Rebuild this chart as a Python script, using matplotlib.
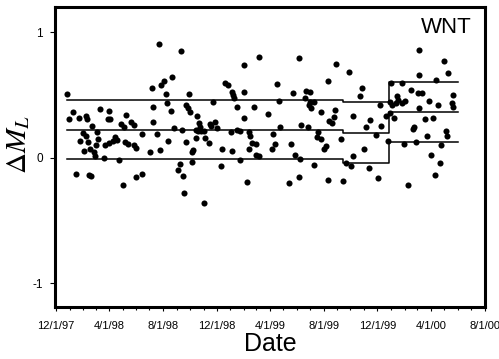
import matplotlib
matplotlib.use("Agg")
import matplotlib.pyplot as plt
import matplotlib.dates as mdates
import pandas as pd

plt.rcParams['font.family'] = ['Liberation Sans', 'DejaVu Sans']
plt.rcParams['mathtext.fontset'] = 'stix'

# ---- data: days since 1997-12-01 and Delta M_L values ----
start_date = "1997-12-01"
days = [
    233, 25, 218, 221, 39, 28, 51, 67, 70, 100, 121, 117, 123, 82, 158, 148, 153, 171, 176, 221,
    60, 67, 93, 196, 229, 53, 73, 96, 133, 139, 129, 121, 111, 91, 157, 164, 176, 182, 63, 77,
    86, 89, 108, 142, 213, 235, 44, 74, 80, 151, 182, 195,
    283, 462, 428, 263, 245, 239, 249, 301, 383, 390, 400, 403, 405, 428, 252, 296, 299, 305,
    260, 356, 412, 450, 481, 320, 427, 324, 327, 349, 352, 360, 267, 287, 317, 322, 330, 337,
    365, 412, 417, 398, 438, 441, 255, 294, 317, 339, 347, 446, 455, 311, 308, 377, 400, 438,
    455, 461, 419, 282, 308, 276, 288, 375, 434, 290, 336,
    553, 637, 665, 618, 502, 695, 691, 539, 568, 578, 506, 565, 576, 585, 575, 579, 602, 634,
    631, 621, 627, 674, 713, 705, 508, 557, 572, 595, 593, 603, 648, 493, 498, 490, 533, 614,
    610, 700, 543, 554, 674, 585, 659, 671, 712, 551, 530, 618, 651,
    826, 881, 825, 890, 761, 786, 864, 806, 822, 832, 902, 775, 777, 773, 792, 787, 847, 868,
    899, 903, 758, 764, 737, 825, 760, 768, 749, 839, 856, 739, 813, 811, 726, 887, 888, 844,
    754, 790, 817, 875, 853, 873, 861, 731, 799,
]
delta_ml = [
    0.905, 0.505, 0.553, 0.407, 0.365, 0.307, 0.32, 0.33, 0.31, 0.39, 0.373, 0.31, 0.31, 0.254, 0.341, 0.27, 0.246, 0.288, 0.262, 0.286,
    0.196, 0.175, 0.204, 0.188, 0.188, 0.137, 0.122, 0.151, 0.164, 0.145, 0.135, 0.117, 0.103, 0.098, 0.125, 0.109, 0.098, 0.077, 0.056, 0.069,
    0.042, 0.016, -0.003, -0.016, 0.045, 0.06, -0.127, -0.138, -0.148, -0.214, -0.156, -0.127,
    0.847, 0.804, 0.741, 0.645, 0.614, 0.579, 0.505, 0.505, 0.593, 0.579, 0.526, 0.5, 0.474, 0.522, 0.439, 0.42, 0.394, 0.368,
    0.376, 0.447, 0.407, 0.407, 0.347, 0.333, 0.317, 0.275, 0.244, 0.27, 0.254, 0.288, 0.233, 0.217, 0.222, 0.209, 0.214, 0.214,
    0.233, 0.222, 0.209, 0.202, 0.202, 0.169, 0.137, 0.125, 0.156, 0.156, 0.117, 0.117, 0.109, 0.058, 0.042, 0.069, 0.05, 0.071,
    0.018, 0.01, -0.021, -0.048, -0.034, -0.095, -0.143, -0.069, -0.193, -0.283, -0.365,
    0.791, 0.744, 0.685, 0.611, 0.585, 0.553, 0.494, 0.514, 0.532, 0.524, 0.452, 0.474, 0.447, 0.447, 0.42, 0.4, 0.368, 0.381,
    0.323, 0.296, 0.275, 0.333, 0.302, 0.244, 0.241, 0.262, 0.241, 0.204, 0.164, 0.151, 0.149, 0.188, 0.111, 0.069, 0.111, 0.095,
    0.069, 0.069, 0.018, -0.008, 0.016, -0.056, -0.042, -0.063, -0.082, -0.156, -0.201, -0.177, -0.188,
    0.857, 0.77, 0.659, 0.672, 0.598, 0.593, 0.619, 0.54, 0.518, 0.518, 0.5, 0.492, 0.46, 0.439, 0.455, 0.434, 0.452, 0.42,
    0.439, 0.407, 0.447, 0.42, 0.42, 0.394, 0.355, 0.315, 0.333, 0.307, 0.32, 0.254, 0.248, 0.23, 0.183, 0.214, 0.175, 0.169,
    0.135, 0.109, 0.127, 0.103, 0.024, -0.042, -0.14, -0.161, -0.22,
]

# step lines (segment edges in days since start, levels per segment)
step_edges = [25, 653, 756, 913]
upper_level = [0.46, 0.445, 0.60]
mean_level = [0.222, 0.20, 0.365]
lower_level = [-0.01, -0.045, 0.125]

x_ticks = ["1997-12-01", "1998-04-01", "1998-08-01", "1998-12-01", "1999-04-01",
           "1999-08-01", "1999-12-01", "2000-04-01", "2000-08-01"]
y_ticks = [-1, 0, 1]
panel_label = "WNT"

# ---- plot ----
t0 = pd.Timestamp(start_date)
dates = t0 + pd.to_timedelta(days, unit="D")
edge_dates = t0 + pd.to_timedelta(step_edges, unit="D")

fig = plt.figure(figsize=(4.99, 3.59), dpi=100)
ax = fig.add_axes([0.110, 0.145, 0.862, 0.835])

for lev in (upper_level, mean_level, lower_level):
    ax.step(edge_dates, lev + [lev[-1]], where="post", color="black", lw=1.1)

ax.plot(dates, delta_ml, "o", color="black", ms=4.4, mec="black", mew=0)

ax.set_xlim(pd.Timestamp("1997-11-28"), pd.Timestamp("2000-08-02"))
ax.set_ylim(-1.19, 1.2)

xt = pd.to_datetime(x_ticks)
ax.set_xticks(xt)
ax.set_xticklabels([f"{d.month}/{d.day}/{d.year % 100:02d}" for d in xt], fontsize=8)
ax.xaxis.set_minor_locator(mdates.MonthLocator())
ax.set_yticks(y_ticks)
ax.set_yticklabels([str(v) for v in y_ticks], fontsize=8.5)

for s in ax.spines.values():
    s.set_linewidth(2.2)
ax.tick_params(axis="x", which="major", direction="out", length=3, width=0.8, pad=7)
ax.tick_params(axis="x", which="minor", direction="out", length=2.5, width=0.8)
ax.tick_params(axis="y", which="major", direction="out", length=3.5, width=0.8, pad=5)

ax.set_xlabel("Date", fontsize=18, labelpad=1)
ax.set_ylabel(r"$\Delta M_L$", fontsize=21)
ax.yaxis.set_label_coords(-0.052, 0.54)

ax.text(0.970, 0.913, panel_label, transform=ax.transAxes, ha="right", va="baseline", fontsize=16)

fig.savefig("out.png", dpi=100)
